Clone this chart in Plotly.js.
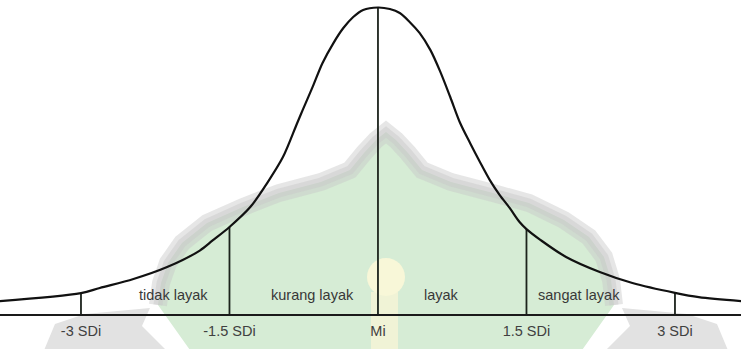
<!DOCTYPE html>
<html>
<head>
<meta charset="utf-8">
<script src="https://cdn.plot.ly/plotly-3.0.1.min.js"></script>
<style>
  html, body { margin: 0; padding: 0; background: #ffffff; }
  #chart { width: 741px; height: 349px; }
</style>
</head>
<body>
<div id="chart"></div>
<script>
// Bell curve: position in SD units and relative height (peak = 1)
const curveZ = [-3.82, -3.0, -2.81, -2.47, -2.13, -1.80, -1.67, -1.5, -1.29, -1.12, -0.96, -0.82,
  -0.76, -0.66, -0.56, -0.45, -0.35, -0.25, -0.15, 0, 0.12, 0.22, 0.32, 0.42, 0.53, 0.63, 0.73,
  0.83, 0.93, 1.03, 1.13, 1.23, 1.33, 1.43, 1.5, 1.64, 1.9, 2.24, 2.57, 3.0, 3.24, 3.67];
const curveH = [0.042, 0.068, 0.085, 0.114, 0.153, 0.207, 0.240, 0.284, 0.349, 0.427, 0.512, 0.620,
  0.666, 0.741, 0.819, 0.884, 0.933, 0.969, 0.992, 1.0, 0.995, 0.982, 0.953, 0.917, 0.861, 0.790, 0.708,
  0.623, 0.558, 0.496, 0.437, 0.388, 0.346, 0.300, 0.277, 0.242, 0.186, 0.137, 0.101, 0.069, 0.055, 0.042];

// Category boundaries and the curve height where each boundary meets it
const boundaryZ = [-3, -1.5, 0, 1.5, 3];
const boundaryTop = [0.068, 0.284, 1.0, 0.277, 0.069];
const boundaryLabels = ['-3 SDi', '-1.5 SDi', 'Mi', '1.5 SDi', '3 SDi'];

// Category names and where they sit along the axis
const categoryNames = ['tidak layak', 'kurang layak', 'layak', 'sangat layak'];
const categoryZ = [-2.07, -0.66, 0.64, 2.03];

const W = 741, H = 349, MB = 35, PH = H - MB;
const px = x => x / W;
const py = y => (PH - y) / PH;
function pathFrom(pts, close) {
  return pts.map((p, i) => (i ? 'L' : 'M') + px(p[0]).toFixed(4) + ',' + py(p[1]).toFixed(4)).join(' ') + (close ? ' Z' : '');
}

// Faint emblem behind the chart
const domeOutline = [[158,305],[161,283],[168,263],[182,243],[207,223],[243,207],[279,193],[321,182],
  [350,170],[364,153],[376,140],[386,132],[396,140],[408,153],[422,170],[451,182],[493,193],[529,203],
  [564,220],[589,237],[604,257],[611,280],[614,305]];
const domeFill = domeOutline.concat([[575,360],[197,360]]);
const leftWing = [[40,360],[55,324],[85,314],[150,308],[142,326],[176,360]];
const rightWing = leftWing.map(p => [772 - p[0], p[1]]);

const shapes = [
  { type: 'path', xref: 'paper', yref: 'paper', layer: 'below', path: pathFrom(domeFill, true),
    fillcolor: 'rgb(214,236,213)', line: { width: 0 } },
  { type: 'path', xref: 'paper', yref: 'paper', layer: 'below', path: pathFrom(domeOutline, false),
    fillcolor: 'rgba(0,0,0,0)', line: { color: 'rgba(200,200,200,0.45)', width: 18 } },
  { type: 'path', xref: 'paper', yref: 'paper', layer: 'below', path: pathFrom(domeOutline, false),
    fillcolor: 'rgba(0,0,0,0)', line: { color: 'rgba(200,200,200,0.45)', width: 9 } },
  { type: 'path', xref: 'paper', yref: 'paper', layer: 'below', path: pathFrom(leftWing, true),
    fillcolor: 'rgb(226,226,226)', line: { width: 0 } },
  { type: 'path', xref: 'paper', yref: 'paper', layer: 'below', path: pathFrom(rightWing, true),
    fillcolor: 'rgb(226,226,226)', line: { width: 0 } },
  { type: 'rect', xref: 'paper', yref: 'paper', layer: 'below',
    x0: px(371), x1: px(398), y0: py(360), y1: py(292),
    fillcolor: 'rgb(240,243,214)', line: { width: 0 } },
  { type: 'circle', xref: 'paper', yref: 'paper', layer: 'below',
    x0: px(367), x1: px(405), y0: py(296), y1: py(258),
    fillcolor: 'rgb(248,247,216)', line: { width: 0 } }
];

const traces = [];
boundaryZ.forEach((z, i) => {
  traces.push({
    x: [z, z], y: [0, boundaryTop[i]], mode: 'lines', type: 'scatter',
    line: { color: '#1c231c', width: 1.8 }, hoverinfo: 'skip', showlegend: false, cliponaxis: false
  });
});
traces.push({
  x: curveZ, y: curveH, mode: 'lines', type: 'scatter',
  line: { color: '#111111', width: 2.2, shape: 'spline', smoothing: 0.9 },
  hoverinfo: 'skip', showlegend: false, cliponaxis: false
});

const textFont = { family: 'Liberation Sans, Arial, sans-serif', size: 14.5, color: '#383838' };
const annotations = categoryNames.map((name, i) => ({
  x: categoryZ[i], y: 0.062, xref: 'x', yref: 'y', text: name, showarrow: false, font: textFont
}));

const layout = {
  width: W, height: H,
  margin: { l: 0, r: 0, t: 0, b: MB, pad: 0 },
  paper_bgcolor: '#ffffff', plot_bgcolor: 'rgba(0,0,0,0)',
  showlegend: false,
  xaxis: {
    range: [-3.818, 3.667], showgrid: false, zeroline: false,
    showline: true, linecolor: '#1a1a1a', linewidth: 2,
    tickmode: 'array', tickvals: boundaryZ, ticktext: boundaryLabels,
    ticks: '', ticklabelstandoff: 3,
    tickfont: { family: 'Liberation Sans, Arial, sans-serif', size: 14.5, color: '#404040' },
    fixedrange: true
  },
  yaxis: {
    range: [0, 1.0245], showgrid: false, zeroline: false, showline: false,
    showticklabels: false, ticks: '', fixedrange: true
  },
  shapes: shapes,
  annotations: annotations
};

Plotly.newPlot('chart', traces, layout, { displayModeBar: false, staticPlot: true });
</script>
</body>
</html>
